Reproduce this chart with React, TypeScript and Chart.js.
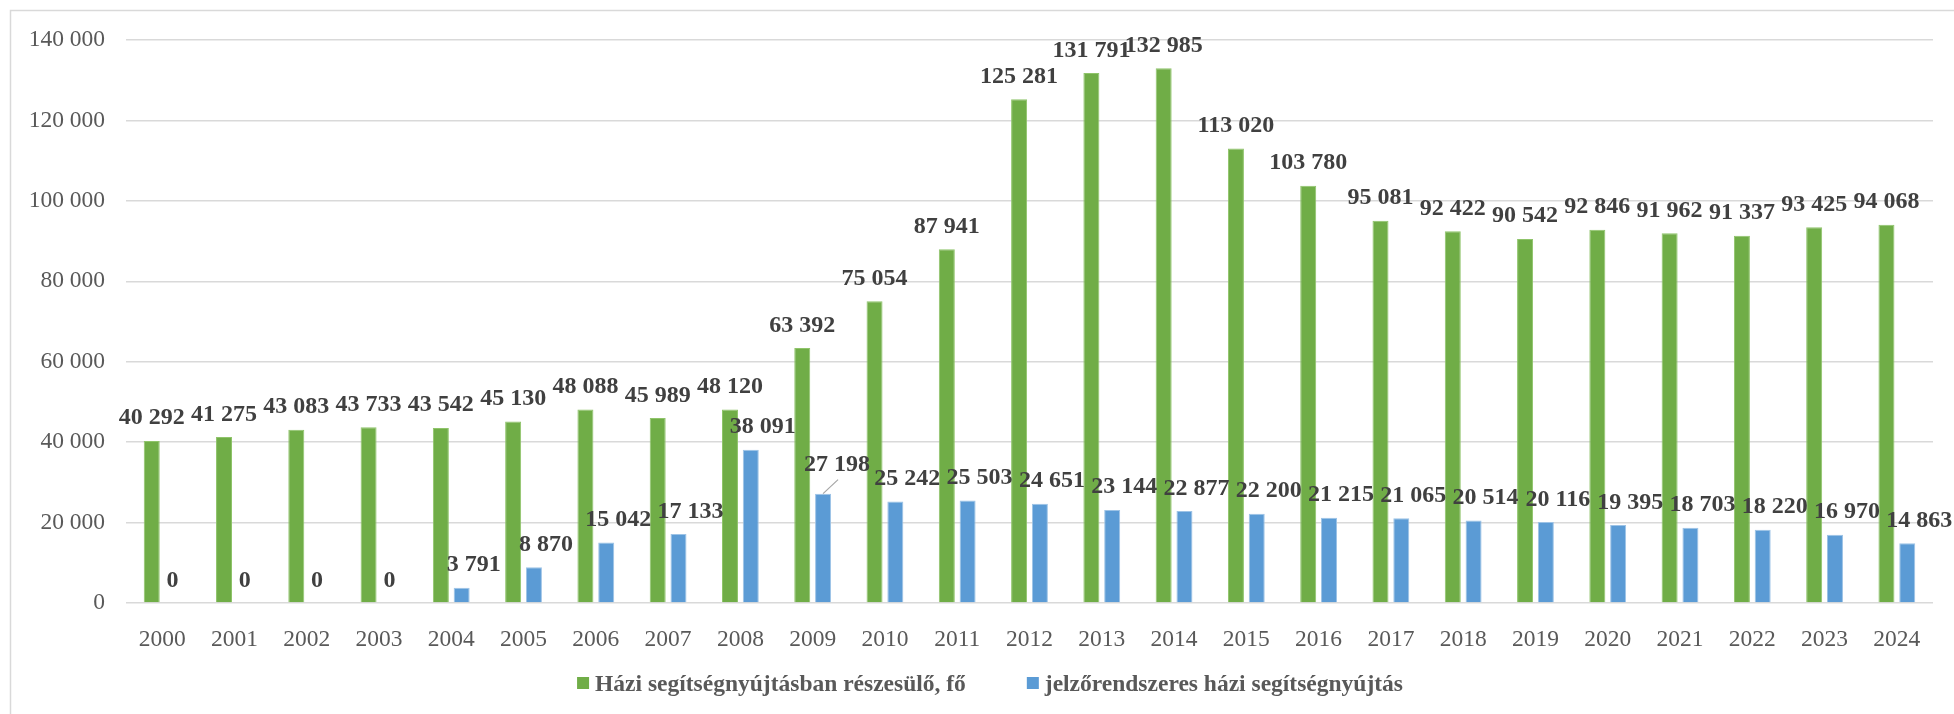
import React, { useEffect, useRef } from "react";
import { Chart, registerables } from "chart.js";

Chart.register(...registerables);

const years = [
  "2000", "2001", "2002", "2003", "2004", "2005", "2006", "2007", "2008", "2009",
  "2010", "2011", "2012", "2013", "2014", "2015", "2016", "2017", "2018", "2019",
  "2020", "2021", "2022", "2023", "2024",
];
const haziValues = [
  40292, 41275, 43083, 43733, 43542, 45130, 48088, 45989, 48120, 63392,
  75054, 87941, 125281, 131791, 132985, 113020, 103780, 95081, 92422, 90542,
  92846, 91962, 91337, 93425, 94068,
];
const jelzoValues = [
  0, 0, 0, 0, 3791, 8870, 15042, 17133, 38091, 27198,
  25242, 25503, 24651, 23144, 22877, 22200, 21215, 21065, 20514, 20116,
  19395, 18703, 18220, 16970, 14863,
];
const seriesLabels = [
  "Házi segítségnyújtásban részesülő, fő",
  "jelzőrendszeres házi segítségnyújtás",
];
const yMin = 0;
const yMax = 140000;
const yStep = 20000;
const leaderLabelYear = "2009";

const FONT = '"Liberation Serif", "Times New Roman", serif';
const GREEN = "#70AD47";
const BLUE = "#5B9BD5";
const GRID = "#d9d9d9";

const fmt = (n: number) => String(n).replace(/\B(?=(\d{3})+(?!\d))/g, " ");

const frame = {
  id: "frame",
  beforeDraw(chart: any) {
    const ctx = chart.ctx;
    ctx.save();
    ctx.strokeStyle = GRID;
    ctx.lineWidth = 1.5;
    ctx.beginPath();
    ctx.moveTo(10.5, chart.height);
    ctx.lineTo(10.5, 10.5);
    ctx.lineTo(chart.width, 10.5);
    ctx.stroke();
    ctx.restore();
  },
};

const valueLabels = {
  id: "valueLabels",
  afterDatasetsDraw(chart: any) {
    const ctx = chart.ctx;
    ctx.save();
    ctx.font = `bold 24px ${FONT}`;
    ctx.fillStyle = "#404040";
    ctx.textAlign = "center";
    ctx.textBaseline = "alphabetic";
    chart.data.datasets.forEach((ds: any, di: number) => {
      const meta = chart.getDatasetMeta(di);
      meta.data.forEach((bar: any, i: number) => {
        const v = ds.data[i] as number;
        let x = bar.x;
        let y = bar.y - 16.5;
        if (di === 1 && v !== 0) x += 12;
        if (di === 1 && chart.data.labels[i] === leaderLabelYear) {
          x = bar.x + 14;
          y = bar.y - 23;
          ctx.save();
          ctx.strokeStyle = "#a6a6a6";
          ctx.lineWidth = 1.2;
          ctx.beginPath();
          ctx.moveTo(bar.x, bar.y);
          ctx.lineTo(bar.x + 15, bar.y - 14);
          ctx.stroke();
          ctx.restore();
        }
        ctx.fillText(fmt(v), x, y);
      });
    });
    ctx.restore();
  },
};

const customLegend = {
  id: "customLegend",
  afterDraw(chart: any) {
    const ctx = chart.ctx;
    ctx.save();
    ctx.font = `bold 23.5px ${FONT}`;
    ctx.textBaseline = "middle";
    ctx.textAlign = "left";
    const box = 12;
    const gapText = 6;
    const gapItems = 61;
    const items = chart.data.datasets.map((ds: any) => ({
      label: ds.label,
      color: ds.backgroundColor,
      w: ctx.measureText(ds.label).width,
    }));
    const total = items.reduce((s: number, it: any) => s + box + gapText + it.w, 0) + gapItems * (items.length - 1);
    let x = chart.width / 2 + 13 - total / 2;
    const cy = 684;
    items.forEach((it: any) => {
      ctx.fillStyle = it.color;
      ctx.fillRect(x, cy - 7, box, box);
      x += box + gapText;
      ctx.fillStyle = "#595959";
      ctx.fillText(it.label, x, cy + 1);
      x += it.w + gapItems;
    });
    ctx.restore();
  },
};

export default function App() {
  const ref = useRef<HTMLCanvasElement | null>(null);
  useEffect(() => {
    if (!ref.current) return;
    const chart = new Chart(ref.current, {
      type: "bar",
      data: {
        labels: years,
        datasets: [
          {
            label: seriesLabels[0],
            data: haziValues,
            backgroundColor: GREEN,
            borderColor: "#8fc46a",
            borderWidth: 1,
            categoryPercentage: 0.5755,
            barPercentage: 0.769,
          },
          {
            label: seriesLabels[1],
            data: jelzoValues,
            backgroundColor: BLUE,
            borderColor: "#9dc3e6",
            borderWidth: 1,
            categoryPercentage: 0.5755,
            barPercentage: 0.769,
          },
        ],
      },
      options: {
        responsive: false,
        animation: false,
        layout: { padding: { top: 40, right: 21, bottom: 61, left: 0 } },
        plugins: {
          legend: { display: false },
          tooltip: { enabled: false },
        },
        scales: {
          x: {
            grid: { display: false },
            border: { display: false },
            ticks: {
              color: "#595959",
              font: { family: FONT, size: 23.5 },
              padding: 15,
              maxRotation: 0,
              autoSkip: false,
            },
            afterFit: (s: any) => {
              s.height = 50;
            },
          },
          y: {
            min: yMin,
            max: yMax,
            border: { display: false },
            grid: { color: GRID, lineWidth: 1.5, drawTicks: false },
            ticks: {
              stepSize: yStep,
              color: "#595959",
              font: { family: FONT, size: 23.5 },
              padding: 21,
              callback: (v: any) => fmt(Number(v)),
            },
            afterFit: (s: any) => {
              s.width = 126;
            },
          },
        },
      },
      plugins: [frame, valueLabels, customLegend],
    });
    return () => chart.destroy();
  }, []);
  return (
    <div style={{ position: "absolute", left: 0, top: 0, width: 1954, height: 714, background: "#fff" }}>
      <canvas ref={ref} width={1954} height={714} />
    </div>
  );
}
